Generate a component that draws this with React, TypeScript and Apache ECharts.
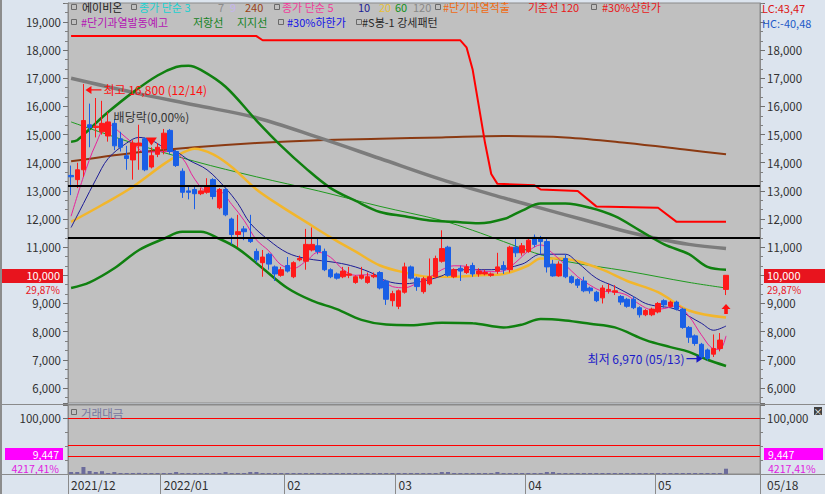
import { useEffect, useRef } from 'react';
import * as echarts from 'echarts';

const FONT = '"Noto Sans CJK KR", "Noto Sans", sans-serif';

const dates = [
  '2021/12/10','2021/12/13','2021/12/14','2021/12/15','2021/12/16','2021/12/17','2021/12/20','2021/12/21','2021/12/22','2021/12/23','2021/12/24','2021/12/27','2021/12/28','2021/12/29','2021/12/30',
  '2022/01/03','2022/01/04','2022/01/05','2022/01/06','2022/01/07','2022/01/10','2022/01/11','2022/01/12','2022/01/13','2022/01/14','2022/01/17','2022/01/18','2022/01/19','2022/01/20','2022/01/21','2022/01/24','2022/01/25','2022/01/26','2022/01/27','2022/01/28',
  '2022/02/03','2022/02/04','2022/02/07','2022/02/08','2022/02/09','2022/02/10','2022/02/11','2022/02/14','2022/02/15','2022/02/16','2022/02/17','2022/02/18','2022/02/21','2022/02/22','2022/02/23','2022/02/24','2022/02/25','2022/02/28',
  '2022/03/02','2022/03/03','2022/03/04','2022/03/07','2022/03/08','2022/03/10','2022/03/11','2022/03/14','2022/03/15','2022/03/16','2022/03/17','2022/03/18','2022/03/21','2022/03/22','2022/03/23','2022/03/24','2022/03/25','2022/03/28','2022/03/29','2022/03/30','2022/03/31',
  '2022/04/01','2022/04/04','2022/04/05','2022/04/06','2022/04/07','2022/04/08','2022/04/11','2022/04/12','2022/04/13','2022/04/14','2022/04/15','2022/04/18','2022/04/19','2022/04/20','2022/04/21','2022/04/22','2022/04/25','2022/04/26','2022/04/27','2022/04/28','2022/04/29',
  '2022/05/02','2022/05/03','2022/05/04','2022/05/06','2022/05/09','2022/05/10','2022/05/11','2022/05/12','2022/05/13','2022/05/16','2022/05/17','2022/05/18',
];

const opens = [
  13550,13400,13750,15350,15250,15100,14950,15400,14850,14250,14100,14600,14850,13850,14300,
  14500,15150,14400,13700,13000,13050,12900,12950,13400,12400,13050,12000,11450,11650,11300,10850,10450,10750,10300,10000,
  10350,9950,10550,10500,10900,11050,10850,10200,10050,9950,10000,9750,9900,9750,9950,10100,9800,9100,
  8900,9400,10300,9900,9420,9700,9950,10500,11000,9950,10250,10100,10350,10050,10050,10000,10150,10350,10200,11000,10800,
  10850,11350,11300,11200,10400,9980,10600,9950,9850,9800,9550,9400,9200,9450,9400,9250,9150,9150,8850,8600,8600,
  8700,9100,8900,9050,8800,8150,7850,7550,7350,7200,7400,9500,
];
const closes = [
  13500,13750,15500,15250,15300,15400,15450,14600,14550,14150,14700,14700,13750,14250,14550,
  15050,14400,13900,12950,12950,12900,13000,13150,12800,13050,12150,11450,11550,11550,11200,10550,10650,10400,10050,10200,
  10150,10450,10600,11100,11100,10850,10200,9950,9900,10150,10050,9950,10000,9950,10000,9550,9150,9350,
  9450,10300,9900,9600,9880,9950,10600,10950,10000,10200,10150,10300,10050,10150,10100,10050,10300,10200,11000,10800,11050,
  11250,11100,11200,10300,9980,10400,9950,9750,9650,9450,9450,9100,9550,9500,9450,9050,8900,8850,8600,8750,8800,
  9000,8950,9050,8800,8150,7800,7580,7100,7050,7400,7700,10000,
];
const highs = [
  13900,14000,16800,16100,16300,16200,15800,15550,15100,14600,14800,15350,14900,14550,14700,
  15200,15200,14450,13800,13150,13150,13100,13450,13450,13100,13100,12050,12150,11750,12150,10950,10900,10800,10350,10300,
  10650,10500,10700,11650,11700,11300,10950,10250,10100,10300,10300,10000,10300,10100,10100,10150,9850,9450,
  9500,10450,10350,9950,9950,10600,10700,11600,11050,10250,10350,10400,10450,10250,10200,10100,10800,10500,11050,11350,11150,
  11300,11450,11400,11300,10550,10500,10750,10000,9900,9950,9600,9450,9650,9700,9650,9300,9200,9250,8900,8800,8850,
  9050,9150,9100,9100,8850,8200,7900,7600,7400,7900,7950,10000,
];
const lows = [
  12850,13100,13500,14550,14900,15000,14750,14450,14400,13750,13400,13750,13700,13800,14200,
  14300,14300,13850,12750,12700,12350,12850,12900,12700,12350,12100,11100,11000,11250,11150,10450,9950,10200,9800,9950,
  10100,9900,10500,10200,10850,10750,10150,9900,9850,9900,9900,9700,9850,9700,9900,9500,8950,8900,
  8800,9350,9850,9450,9350,9650,9900,10450,9950,9900,9800,10050,9950,9950,10000,9950,10050,10050,10100,10650,10700,
  10800,11000,10750,10100,9950,9950,9900,9700,9550,9400,9350,9050,9000,9350,9300,8950,8850,8800,8500,8550,8550,
  8650,8850,8850,8750,8100,7600,7500,7050,6970,7100,7300,9300,
];
// 거래대금 (trading value)
const tradeValue = [
  3600,3600,12500,5400,3600,5000,1800,3600,1800,1800, 1800,2000,1800,1800,1800,1800,1800,3600,1800,1800,
  1800,1800,1800,1800,1800,3600,1800,1800,1800,3600, 3600,1800,1800,1800,1800,1800,1800,1800,1800,1800,
  1800,1800,1800,1800,1800,1800,1800,1800,1800,1800, 1800,1800,1800,1800,1800,1800,1800,1800,1800,1800,
  3600,3600,1800,1800,1800,1800,1800,1800,1800,3600, 1800,1800,1800,1800,1800,1800,1800,3600,3600,1800,
  1800,1800,1800,1800,1800,1800,1800,1800,1800,1800, 1800,1800,1800,1800,1800,1800,1800,1800,1800,1800,
  1800,1800,1800,1800,1800,1800,9447,
];

// indicator lines: [candle index, value]
const ma5Pts = [[0,12100],[2,13500],[4,14660],[6,15380],[8,15060],[10,14690],[12,14370],[14,14390],[16,14400],[18,14170],[20,13420],[22,12990],[24,12980],[26,12520],[28,11950],[30,11260],[32,10870],[34,10370],[36,10250],[38,10500],[40,10820],[42,10640],[44,10210],[46,10000],[48,10020],[50,9890],[52,9600],[54,9560],[56,9720],[58,9930],[60,10200],[62,10340],[64,10320],[66,10170],[68,10130],[70,10160],[72,10470],[74,10860],[76,11080],[78,10770],[80,10370],[82,9950],[84,9650],[86,9440],[88,9410],[90,9290],[92,8970],[94,8780],[96,8820],[98,8920],[100,8550],[102,7890],[104,7390],[105,7370],[106,7850]];
const ma10Pts = [[0,11700],[2,12550],[4,13400],[6,14150],[9,14700],[11,14900],[13,14800],[15,14550],[17,14400],[19,14100],[22,13750],[25,13100],[27,12550],[29,11850],[32,11250],[35,10800],[38,10600],[43,10450],[46,10300],[49,10050],[51,9800],[54,9700],[57,9800],[60,9980],[62,10200],[68,10200],[73,10400],[76,10750],[80,10750],[82,10450],[85,9900],[88,9600],[91,9250],[93,9000],[95,8900],[97,8850],[99,8700],[100,8550],[102,8300],[104,8050],[106,8200]];
const ma20Pts = [[0,11900],[5,12500],[10,13150],[15,13950],[18,14350],[20,14500],[23,14300],[26,13850],[30,13050],[34,12450],[38,11900],[42,11350],[46,10850],[50,10350],[54,10100],[58,9950],[62,9950],[66,10000],[70,10050],[74,10350],[76,10600],[79,10600],[82,10500],[86,10200],[90,9800],[95,9400],[100,8750],[106,8500]];
const ma60Pts = [[0,15450],[10,14700],[20,14050],[30,13500],[40,13000],[50,12450],[60,11950],[65,11600],[70,11200],[75,10800],[80,10500],[90,10150],[100,9750],[106,9550]];
const ma120Pts = [[0,17000],[10,16500],[20,16050],[30,15600],[40,14900],[50,14150],[60,13400],[70,12750],[75,12450],[80,12150],[85,11850],[90,11550],[95,11300],[100,11100],[106,10950]];
const ma240Pts = [[0,14050],[10,14350],[20,14550],[30,14700],[40,14800],[50,14850],[60,14900],[70,14950],[80,14900],[90,14700],[100,14450],[106,14300]];
const resistPts = [[0,14750],[1,14800],[3,15200],[6,15800],[10,16500],[14,17100],[17,17400],[19,17450],[21,17300],[25,16700],[30,15500],[34,14600],[38,13800],[42,13100],[46,12650],[50,12250],[54,12100],[58,11950],[62,11900],[66,11850],[70,12000],[73,12300],[76,12550],[80,12550],[84,12400],[88,12100],[92,11600],[96,11100],[100,10750],[103,10300],[106,10200]];
const supportPts = [[0,9550],[3,9750],[7,10250],[11,10900],[15,11300],[18,11550],[21,11550],[24,11300],[27,10950],[31,10250],[35,9550],[39,9100],[43,8800],[47,8420],[51,8250],[55,8230],[60,8320],[65,8300],[70,8150],[73,8250],[76,8450],[80,8400],[84,8280],[88,8150],[93,7700],[97,7450],[100,7280],[103,7000],[106,6780]];
const baseLinePts = [[0,18500],[30,18500],[31,18350],[63,18350],[64,18100],[65,17300],[66,16000],[67,14700],[68,13600],[69,13250],[75,13200],[76,13050],[82,13000],[85,12450],[95,12400],[98,11900],[106,11900]];

const monthIdx = [0, 15, 35, 53, 74, 95];
const monthLabels = ['2021/12', '2022/01', '02', '03', '04', '05'];
const blackLevels = [13200, 11350];
const tradeRefLevels = [100000, 51800, 32100];

const PRICE_MIN = 5465;
const PRICE_MAX = 19675;
const VOL_MAX = 123200;
const PAD = 5;

const fmt = (v: number) => v.toLocaleString('en-US');

export default function App() {
  const ref = useRef<HTMLDivElement>(null);
  useEffect(() => {
    const chart = echarts.init(ref.current!, null, { renderer: 'svg' });
    const cats = [...dates, ...Array.from({ length: PAD }, (_, k) => `pad${k}`)];
    const candles = dates.map((_, i) => [opens[i], closes[i], lows[i], highs[i]]);

    const line = (name: string, pts: number[][], color: string, width: number, z: number, smooth: number | boolean = 0.35) => ({
      name, type: 'line', xAxisIndex: 0, yAxisIndex: 0, data: pts, showSymbol: false, symbol: 'none',
      smooth, silent: true, z, lineStyle: { color, width }, animation: false,
    });

    const txt = (x: number, y: number, text: string, fill: string, size = 10.5, align = 'left') => ({
      type: 'text', x, y, z: 100, silent: true,
      style: { text, fill, fontSize: size, lineHeight: size, fontFamily: FONT, align, verticalAlign: 'middle', textAlign: align, textVerticalAlign: 'middle' },
    });
    const box = (x: number, y: number, w: number, h: number, fill: string) => ({
      type: 'rect', z: 99, silent: true, shape: { x, y, width: w, height: h }, style: { fill },
    });
    const sq = (x: number, y: number) => ({
      type: 'rect', z: 100, silent: true, shape: { x: x + 0.5, y: y + 0.5, width: 5, height: 5 }, style: { fill: 'none', stroke: '#6a6a6a', lineWidth: 1 },
    });
    const hl = (x1: number, x2: number, y: number, color: string) => ({
      type: 'line', z: 98, silent: true, shape: { x1, y1: y, x2, y2: y }, style: { stroke: color, lineWidth: 1 },
    });

    const legend1: [string, number, string][] = [
      ['에이비온', 82, '#202020'], ['종가 단순 3', 139, '#18d0d0'], ['7', 218, '#8c8c8c'], ['9', 230, '#c4b4ee'],
      ['240', 245, '#9a4416'], ['종가 단순 5', 282, '#f03c9c'], ['10', 358, '#1c1c96'], ['20', 379, '#e8c038'],
      ['60', 395, '#12901a'], ['120', 413, '#888888'], ['#단기과열적출', 443, '#f06a12'], ['기준선 120', 528, '#e81818'],
      ['#30%상한가', 602, '#e81818'],
    ];
    const legend2: [string, number, string][] = [
      ['#단기과열발동예고', 81, '#b414b4'], ['저항선', 193, '#14821e'], ['지지선', 237, '#14821e'],
      ['#30%하한가', 287, '#1414e6'], ['#S봉-1 강세패턴', 362, '#282828'],
    ];

    const graphics: any[] = [
      ...[71, 131, 274, 435, 591].map((x) => sq(x, 4)),
      ...[71, 278, 356].map((x) => sq(x, 19)),
      ...legend1.map(([t, x, c]) => txt(x, 7, t, c, 11)),
      ...legend2.map(([t, x, c]) => txt(x, 22, t, c, 11)),
      txt(762, 7.5, 'LC:43,47', '#dc1414', 11),
      txt(762, 22.5, 'HC:-40,48', '#1e5ac8', 11),
      box(764, 269, 61, 14, '#e8141e'),
      txt(767, 275, '10,000', '#ffffff', 11),
      txt(767, 289.2, '29,87%', '#e8141e', 10),
      box(0, 269, 63, 14, '#e8141e'),
      txt(60, 275, '10,000', '#ffffff', 11, 'right'),
      txt(60, 289.2, '29,87%', '#e8141e', 10, 'right'),
      box(5, 448, 58, 12, '#ff00ff'),
      txt(59, 454, '9,447', '#ffffff', 10.5, 'right'),
      txt(59, 468, '4217,41%', '#e020e0', 10.5, 'right'),
      box(764, 448, 59, 12, '#ff00ff'),
      txt(768, 454, '9,447', '#ffffff', 10.5),
      txt(768, 468, '4217,41%', '#e020e0', 10.5),
      sq(71, 409),
      txt(81, 413, '거래대금', '#7878a0', 11.5),
      txt(767, 484, '05/18', '#333333', 12),
      box(814, 407, 8, 8, '#404040'),
      txt(818, 411, '×', '#ffffff', 9, 'center'),
      hl(0, 825, 404.5, '#8a8a8a'),
      hl(0, 825, 474.5, '#8a8a8a'),
      { type: 'rect', z: 100, silent: true, shape: { x: 0, y: 0, width: 2, height: 494 }, style: { fill: '#8c8c8c' } },
    ];

    const valueAxisCommon = {
      splitLine: { show: false },
      axisLine: { show: true, lineStyle: { color: '#8a8a8a' } },
      axisTick: { show: true, length: 5, lineStyle: { color: '#707070' } },
      minorTick: { show: true, splitNumber: 3, length: 3, lineStyle: { color: '#808080' } },
      minorSplitLine: { show: false },
    };
    const priceAxis = (position: string, hidden: number[]) => ({
      type: 'value', gridIndex: 0, position, min: PRICE_MIN, max: PRICE_MAX,
      minInterval: 1000, maxInterval: 1000, splitNumber: 14, scale: true,
      ...valueAxisCommon,
      axisLabel: {
        color: '#303030', fontSize: 11.5, fontFamily: FONT, margin: 7, showMinLabel: false, showMaxLabel: false,
        formatter: (v: number) => {
          const r = Math.round(v);
          return r % 1000 === 0 && hidden.indexOf(r) < 0 ? fmt(r) : '';
        },
      },
    });
    const tradeAxis = (position: string) => ({
      type: 'value', gridIndex: 1, position, min: 0, max: VOL_MAX, interval: 100000,
      ...valueAxisCommon,
      minorTick: { show: true, splitNumber: 4, length: 3, lineStyle: { color: '#808080' } },
      axisLabel: {
        color: '#303030', fontSize: 11.5, fontFamily: FONT, margin: 7,
        formatter: (v: number) => (v === 100000 ? fmt(v) : ''),
      },
    });

    const option: any = {
      animation: false,
      backgroundColor: '#dce4ee',
      textStyle: { fontFamily: FONT },
      graphic: { elements: graphics },
      grid: [
        { left: 68, right: 65, top: 3, height: 400, show: true, backgroundColor: '#c0c0c0', borderColor: '#8a8a8a', borderWidth: 1, outerBoundsMode: 'none', containLabel: false },
        { left: 68, right: 65, top: 405, height: 69, show: true, backgroundColor: '#c0c0c0', borderColor: '#8a8a8a', borderWidth: 1, outerBoundsMode: 'none', containLabel: false },
      ],
      xAxis: [
        { type: 'category', gridIndex: 0, data: cats, boundaryGap: true, axisLine: { show: false }, axisTick: { show: false }, axisLabel: { show: false }, splitLine: { show: false } },
        {
          type: 'category', gridIndex: 1, data: cats, boundaryGap: true, position: 'bottom',
          axisLine: { show: true, lineStyle: { color: '#8a8a8a' } },
          axisTick: { show: true, length: 20, alignWithLabel: false, interval: (i: number) => monthIdx.indexOf(i) >= 0, lineStyle: { color: '#8a8a8a' } },
          axisLabel: {
            show: true, interval: (i: number) => monthIdx.indexOf(i) >= 0, align: 'left', margin: 4,
            color: '#303030', fontSize: 12, fontFamily: FONT,
            formatter: (_v: string, i: number) => monthLabels[monthIdx.indexOf(i)] ?? '',
          },
          splitLine: { show: false },
        },
      ],
      yAxis: [priceAxis('left', [10000]), priceAxis('right', [10000, 19000]), tradeAxis('left'), tradeAxis('right')],
      series: [
        line('MA240', ma240Pts, '#8b3a12', 2, 2),
        line('MA120', ma120Pts, '#7c7c7c', 3.5, 2),
        line('MA60', ma60Pts, '#1f9a1f', 1, 2),
        line('저항선', resistPts, '#108010', 2.5, 3),
        line('지지선', supportPts, '#108010', 2.5, 3),
        line('MA20', ma20Pts, '#f2b62c', 2.5, 3),
        line('기준선 120', baseLinePts, '#ff0000', 2, 3, false),
        line('MA10', ma10Pts, '#1c1c96', 1, 4),
        line('MA5', ma5Pts, '#e8209a', 1, 4),
        {
          name: '에이비온', type: 'candlestick', xAxisIndex: 0, yAxisIndex: 0, data: candles, barWidth: 5, z: 5,
          itemStyle: { color: '#ff1a1a', color0: '#1a5fe6', borderColor: '#ff1a1a', borderColor0: '#1a5fe6', borderWidth: 1 },
          markLine: {
            silent: true, symbol: ['none', 'none'], label: { show: false }, z: 10,
            lineStyle: { color: '#000000', width: 2, type: 'solid' },
            data: blackLevels.map((v) => ({ yAxis: v })),
          },
          markPoint: {
            silent: true, z: 11,
            data: [
              {
                coord: [2, 16800], symbol: 'path://M0,3.5 L6,0 L6,3 L16,3 L16,4 L6,4 L6,7 Z', symbolSize: [16, 8], symbolOffset: [10, 6],
                itemStyle: { color: '#ff1010' },
                label: { show: true, position: 'right', distance: 2, formatter: '최고 16,800 (12/14)', color: '#ff1010', fontSize: 12, fontFamily: FONT },
              },
              {
                coord: [103, 6970], symbol: 'path://M0,3 L10,3 L10,0 L16,3.5 L10,7 L10,4 L0,4 Z', symbolSize: [16, 8], symbolOffset: [-13, -2],
                itemStyle: { color: '#1a1ac8' },
                label: { show: true, position: 'left', distance: 2, formatter: '최저 6,970 (05/13)', color: '#1a1ac8', fontSize: 12, fontFamily: FONT },
              },
              {
                coord: [13, 14755], symbol: 'path://M0,0 L10,0 L5,8 Z', symbolSize: [11, 8],
                itemStyle: { color: '#ff1010' },
                label: { show: true, position: 'top', distance: 15, formatter: '배당락(0,00%)', color: '#333333', fontSize: 12, fontFamily: FONT },
              },
              {
                coord: [106, 8805], symbol: 'path://M5,0 L10,5 L7,5 L7,10 L3,10 L3,5 L0,5 Z', symbolSize: [9, 10],
                itemStyle: { color: '#ff1010' }, label: { show: false },
              },
            ],
          },
        },
        {
          name: '거래대금', type: 'bar', xAxisIndex: 1, yAxisIndex: 2, data: tradeValue, barWidth: 4, z: 3,
          itemStyle: { color: '#6c6c9c' },
          markLine: {
            silent: true, symbol: ['none', 'none'], label: { show: false },
            lineStyle: { color: '#ff0000', width: 1, type: 'solid' },
            data: tradeRefLevels.map((v) => ({ yAxis: v })),
          },
        },
      ],
    };
    chart.setOption(option);
    return () => chart.dispose();
  }, []);
  return <div ref={ref} style={{ position: 'fixed', left: 0, top: 0, width: 825, height: 494 }} />;
}
